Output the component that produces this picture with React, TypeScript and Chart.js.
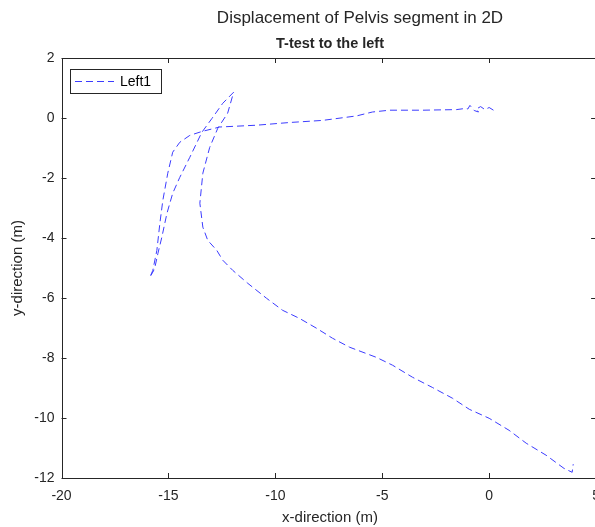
import React, { useEffect, useRef } from "react";
import { Chart, registerables } from "chart.js";

Chart.register(...registerables);

const seriesLabel = "Left1";
const xTicks = [-20, -15, -10, -5, 0, 5];
const yTicks = [2, 0, -2, -4, -6, -8, -10, -12];

const xValues = [
  0.2, 0.0, -0.2, -0.4, -0.6, -0.5, -0.7, -0.9, -1.0, -1.1,
  -1.53, -3.12, -4.66, -5.46, -6.2, -7.79, -9.33, -10.87, -12.6, -13.44,
  -14.0, -14.47, -14.8, -15.03, -15.26, -15.4, -15.54, -15.73, -15.87, -15.7,
  -15.63, -15.49, -15.31, -15.07, -14.8, -14.47, -14.0, -13.44, -12.97, -12.46,
  -11.95, -12.23, -12.69, -13.07, -13.39, -13.53, -13.39, -13.16, -12.74, -12.46,
  -11.99, -11.29, -10.41, -9.66, -8.87, -8.07, -7.33, -6.53, -5.27, -4.52,
  -3.59, -2.66, -1.72, -0.93, 0.0, 0.93, 1.73, 2.66, 3.5, 3.88, 3.93,
];
const yValues = [
  0.26, 0.35, 0.28, 0.38, 0.3, 0.2, 0.25, 0.42, 0.3, 0.32,
  0.28, 0.26, 0.26, 0.2, 0.07, -0.08, -0.15, -0.24, -0.3, -0.45,
  -0.58, -0.81, -1.14, -1.84, -2.74, -3.51, -4.41, -5.08, -5.31, -5.1,
  -4.97, -4.51, -3.98, -3.18, -2.51, -1.98, -1.31, -0.48, -0.02, 0.49,
  0.86, 0.16, -0.34, -0.98, -1.84, -2.84, -3.64, -4.08, -4.41, -4.74,
  -5.08, -5.51, -6.01, -6.41, -6.68, -7.01, -7.34, -7.64, -7.98, -8.24,
  -8.64, -8.98, -9.34, -9.71, -10.01, -10.41, -10.84, -11.24, -11.68, -11.81, -11.54,
];

const FONT = "'Liberation Sans', Arial, Helvetica, sans-serif";
const AXIS_COLOR = "#262626";
const LINE_COLOR = "#3c3cff";
const DASH = [7, 4];

const decorPlugin = {
  id: "matlabDecor",
  afterDraw(chart: any) {
    const ctx = chart.ctx as CanvasRenderingContext2D;
    const a = chart.chartArea;
    const xs = chart.scales.x;
    const ys = chart.scales.y;
    ctx.save();
    ctx.strokeStyle = AXIS_COLOR;
    ctx.lineWidth = 1;
    ctx.setLineDash([]);
    ctx.beginPath();
    ctx.rect(Math.round(a.left) + 0.5, Math.round(a.top) + 0.5, Math.round(a.right - a.left), Math.round(a.bottom - a.top));
    ctx.stroke();
    ctx.beginPath();
    xTicks.forEach((v) => {
      const p = Math.round(xs.getPixelForValue(v)) + 0.5;
      ctx.moveTo(p, a.bottom);
      ctx.lineTo(p, a.bottom - 5);
      ctx.moveTo(p, a.top);
      ctx.lineTo(p, a.top + 5);
    });
    yTicks.forEach((v) => {
      const p = Math.round(ys.getPixelForValue(v)) + 0.5;
      ctx.moveTo(a.left, p);
      ctx.lineTo(a.left + 5, p);
      ctx.moveTo(a.right, p);
      ctx.lineTo(a.right - 5, p);
    });
    ctx.stroke();

    ctx.fillStyle = AXIS_COLOR;
    ctx.textAlign = "center";
    ctx.textBaseline = "middle";
    ctx.font = `17px ${FONT}`;
    ctx.fillText("Displacement of Pelvis segment in 2D", 360, 18);
    ctx.font = `bold 14.5px ${FONT}`;
    ctx.fillText("T-test to the left", 330, 44);
    ctx.font = `15px ${FONT}`;
    ctx.fillText("x-direction (m)", 330, 518);
    ctx.save();
    ctx.translate(18, 268);
    ctx.rotate(-Math.PI / 2);
    ctx.fillText("y-direction (m)", 0, 0);
    ctx.restore();

    const lx = 70, ly = 69, lw = 91, lh = 24;
    ctx.fillStyle = "#ffffff";
    ctx.fillRect(lx, ly, lw, lh);
    ctx.strokeStyle = AXIS_COLOR;
    ctx.strokeRect(lx + 0.5, ly + 0.5, lw, lh);
    ctx.strokeStyle = LINE_COLOR;
    ctx.setLineDash(DASH);
    ctx.beginPath();
    ctx.moveTo(lx + 5, ly + lh / 2 + 0.5);
    ctx.lineTo(lx + 44, ly + lh / 2 + 0.5);
    ctx.stroke();
    ctx.setLineDash([]);
    ctx.fillStyle = "#000000";
    ctx.textAlign = "left";
    ctx.font = `14px ${FONT}`;
    ctx.fillText(seriesLabel, lx + 50, ly + lh / 2 + 1);
    ctx.restore();
  },
};

export default function App() {
  const ref = useRef<HTMLCanvasElement | null>(null);

  useEffect(() => {
    document.body.style.margin = "0";
    const canvas = ref.current;
    if (!canvas) return;
    const points = xValues.map((x, i) => ({ x, y: yValues[i] }));
    const chart = new Chart(canvas, {
      type: "scatter",
      data: {
        datasets: [
          {
            label: seriesLabel,
            data: points,
            showLine: true,
            borderColor: LINE_COLOR,
            borderWidth: 1,
            borderDash: DASH,
            pointRadius: 0,
            tension: 0,
            fill: false,
          },
        ],
      },
      options: {
        responsive: false,
        animation: false,
        devicePixelRatio: 1,
        layout: { padding: { top: 58, right: 13, left: 0, bottom: 0 } },
        plugins: {
          legend: { display: false },
          tooltip: { enabled: false },
          title: { display: false },
        },
        scales: {
          x: {
            type: "linear",
            min: -20,
            max: 5,
            afterBuildTicks: (s: any) => {
              s.ticks = xTicks.map((v) => ({ value: v }));
            },
            afterFit: (s: any) => {
              s.height = 49;
            },
            grid: { display: false, drawTicks: false },
            border: { display: false },
            ticks: {
              autoSkip: false,
              maxRotation: 0,
              padding: 10,
              color: AXIS_COLOR,
              font: { family: FONT, size: 14 },
            },
          },
          y: {
            type: "linear",
            min: -12,
            max: 2,
            afterBuildTicks: (s: any) => {
              s.ticks = yTicks.map((v) => ({ value: v }));
            },
            afterFit: (s: any) => {
              s.width = 61.5;
            },
            grid: { display: false, drawTicks: false },
            border: { display: false },
            ticks: {
              autoSkip: false,
              padding: 7,
              color: AXIS_COLOR,
              font: { family: FONT, size: 14 },
            },
          },
        },
      },
      plugins: [decorPlugin],
    });
    return () => chart.destroy();
  }, []);

  return (
    <div style={{ position: "fixed", left: 0, top: 0, width: 595, height: 527, overflow: "hidden", background: "#fff" }}>
      <canvas ref={ref} width={610} height={527} style={{ width: 610, height: 527, display: "block" }} />
    </div>
  );
}
